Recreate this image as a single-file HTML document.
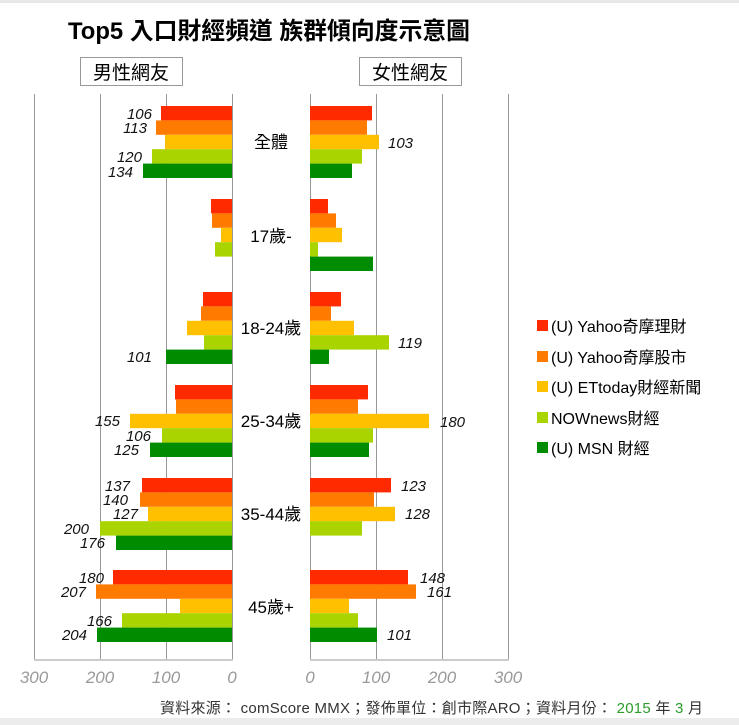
<!DOCTYPE html>
<html><head><meta charset="utf-8"><style>
body{margin:0;background:#fff}
svg{display:block;font-family:"Liberation Sans","Noto Sans CJK TC",sans-serif}
.l{font-style:italic;font-size:15px;fill:#111}
.c{font-size:17px;fill:#000;text-anchor:middle}
.ax{font-style:italic;font-size:17px;fill:#999;text-anchor:middle}
.lg{font-size:16px;fill:#000}
</style></head><body>
<svg width="739" height="725" viewBox="0 0 739 725">
<rect x="0" y="0" width="739" height="3" fill="#e8e8e8"/>
<rect x="0" y="718" width="739" height="7" fill="#ececec"/>
<text x="68" y="39" font-size="24" font-weight="bold" fill="#000" textLength="402" lengthAdjust="spacingAndGlyphs">Top5 入口財經頻道  族群傾向度示意圖</text>
<rect x="80.5" y="57.5" width="102" height="28" fill="#fff" stroke="#999"/>
<text x="131" y="79" font-size="19" text-anchor="middle">男性網友</text>
<rect x="359.5" y="57.5" width="102" height="28" fill="#fff" stroke="#999"/>
<text x="410" y="79" font-size="19" text-anchor="middle">女性網友</text>
<g stroke="#999" stroke-width="1">
<line x1="34.5" y1="94" x2="34.5" y2="660"/><line x1="100.5" y1="94" x2="100.5" y2="660"/><line x1="166.5" y1="94" x2="166.5" y2="660"/><line x1="232.5" y1="94" x2="232.5" y2="660"/>
<line x1="310.5" y1="94" x2="310.5" y2="660"/><line x1="376.5" y1="94" x2="376.5" y2="660"/><line x1="442.5" y1="94" x2="442.5" y2="660"/><line x1="508.5" y1="94" x2="508.5" y2="660"/>
</g>
<line x1="34" y1="660" x2="233" y2="660" stroke="#ccc" stroke-width="2"/>
<line x1="310" y1="660" x2="509" y2="660" stroke="#ccc" stroke-width="2"/>
<g>
<rect x="161" y="106" width="71" height="14.4" fill="#ff2a00"/><rect x="156" y="120.4" width="76" height="14.4" fill="#ff7b00"/><rect x="165" y="134.8" width="67" height="14.4" fill="#ffc000"/><rect x="152" y="149.2" width="80" height="14.4" fill="#aad400"/><rect x="143" y="163.6" width="89" height="14.4" fill="#008c00"/>
<rect x="310" y="106" width="62" height="14.4" fill="#ff2a00"/><rect x="310" y="120.4" width="57" height="14.4" fill="#ff7b00"/><rect x="310" y="134.8" width="69" height="14.4" fill="#ffc000"/><rect x="310" y="149.2" width="52" height="14.4" fill="#aad400"/><rect x="310" y="163.6" width="42" height="14.4" fill="#008c00"/>
<rect x="211" y="199" width="21" height="14.4" fill="#ff2a00"/><rect x="212" y="213.4" width="20" height="14.4" fill="#ff7b00"/><rect x="221" y="227.8" width="11" height="14.4" fill="#ffc000"/><rect x="215" y="242.2" width="17" height="14.4" fill="#aad400"/>
<rect x="310" y="199" width="18" height="14.4" fill="#ff2a00"/><rect x="310" y="213.4" width="26" height="14.4" fill="#ff7b00"/><rect x="310" y="227.8" width="32" height="14.4" fill="#ffc000"/><rect x="310" y="242.2" width="8" height="14.4" fill="#aad400"/><rect x="310" y="256.6" width="63" height="14.4" fill="#008c00"/>
<rect x="203" y="292" width="29" height="14.4" fill="#ff2a00"/><rect x="201" y="306.4" width="31" height="14.4" fill="#ff7b00"/><rect x="187" y="320.8" width="45" height="14.4" fill="#ffc000"/><rect x="204" y="335.2" width="28" height="14.4" fill="#aad400"/><rect x="166" y="349.6" width="66" height="14.4" fill="#008c00"/>
<rect x="310" y="292" width="31" height="14.4" fill="#ff2a00"/><rect x="310" y="306.4" width="21" height="14.4" fill="#ff7b00"/><rect x="310" y="320.8" width="44" height="14.4" fill="#ffc000"/><rect x="310" y="335.2" width="79" height="14.4" fill="#aad400"/><rect x="310" y="349.6" width="19" height="14.4" fill="#008c00"/>
<rect x="175" y="385" width="57" height="14.4" fill="#ff2a00"/><rect x="176" y="399.4" width="56" height="14.4" fill="#ff7b00"/><rect x="130" y="413.8" width="102" height="14.4" fill="#ffc000"/><rect x="162" y="428.2" width="70" height="14.4" fill="#aad400"/><rect x="150" y="442.6" width="82" height="14.4" fill="#008c00"/>
<rect x="310" y="385" width="58" height="14.4" fill="#ff2a00"/><rect x="310" y="399.4" width="48" height="14.4" fill="#ff7b00"/><rect x="310" y="413.8" width="119" height="14.4" fill="#ffc000"/><rect x="310" y="428.2" width="63" height="14.4" fill="#aad400"/><rect x="310" y="442.6" width="59" height="14.4" fill="#008c00"/>
<rect x="142" y="478" width="90" height="14.4" fill="#ff2a00"/><rect x="140" y="492.4" width="92" height="14.4" fill="#ff7b00"/><rect x="148" y="506.8" width="84" height="14.4" fill="#ffc000"/><rect x="100" y="521.2" width="132" height="14.4" fill="#aad400"/><rect x="116" y="535.6" width="116" height="14.4" fill="#008c00"/>
<rect x="310" y="478" width="81" height="14.4" fill="#ff2a00"/><rect x="310" y="492.4" width="64" height="14.4" fill="#ff7b00"/><rect x="310" y="506.8" width="85" height="14.4" fill="#ffc000"/><rect x="310" y="521.2" width="52" height="14.4" fill="#aad400"/>
<rect x="113" y="570" width="119" height="14.4" fill="#ff2a00"/><rect x="96" y="584.4" width="136" height="14.4" fill="#ff7b00"/><rect x="180" y="598.8" width="52" height="14.4" fill="#ffc000"/><rect x="122" y="613.2" width="110" height="14.4" fill="#aad400"/><rect x="97" y="627.6" width="135" height="14.4" fill="#008c00"/>
<rect x="310" y="570" width="98" height="14.4" fill="#ff2a00"/><rect x="310" y="584.4" width="106" height="14.4" fill="#ff7b00"/><rect x="310" y="598.8" width="39" height="14.4" fill="#ffc000"/><rect x="310" y="613.2" width="48" height="14.4" fill="#aad400"/><rect x="310" y="627.6" width="67" height="14.4" fill="#008c00"/>
</g>
<g class="l" text-anchor="end">
<text x="152" y="119">106</text><text x="147" y="133">113</text><text x="142" y="162">120</text><text x="133" y="177">134</text>
<text x="152" y="362">101</text>
<text x="120" y="426">155</text><text x="151" y="441">106</text><text x="139" y="455">125</text>
<text x="130" y="491">137</text><text x="128" y="505">140</text><text x="138" y="519">127</text><text x="89" y="534">200</text><text x="105" y="548">176</text>
<text x="104" y="583">180</text><text x="86" y="597">207</text><text x="112" y="626">166</text><text x="87" y="640">204</text>
</g>
<g class="l">
<text x="388" y="148">103</text><text x="398" y="348">119</text><text x="440" y="427">180</text>
<text x="401" y="491">123</text><text x="405" y="519">128</text>
<text x="420" y="583">148</text><text x="427" y="597">161</text><text x="387" y="640">101</text>
</g>
<g class="c">
<text x="271" y="148">全體</text><text x="271" y="242">17歲-</text><text x="271" y="334">18-24歲</text><text x="271" y="427">25-34歲</text><text x="271" y="520">35-44歲</text><text x="271" y="613">45歲+</text>
</g>
<g class="ax">
<text x="34" y="683">300</text><text x="100" y="683">200</text><text x="166" y="683">100</text><text x="232" y="683">0</text>
<text x="310" y="683">0</text><text x="376" y="683">100</text><text x="442" y="683">200</text><text x="508" y="683">300</text>
</g>
<g class="lg">
<rect x="537" y="320" width="11" height="11" fill="#ff2a00"/><text x="551" y="332">(U) Yahoo奇摩理財</text>
<rect x="537" y="351" width="11" height="11" fill="#ff7b00"/><text x="551" y="363">(U) Yahoo奇摩股市</text>
<rect x="537" y="381" width="11" height="11" fill="#ffc000"/><text x="551" y="393">(U) ETtoday財經新聞</text>
<rect x="537" y="412" width="11" height="11" fill="#aad400"/><text x="551" y="424">NOWnews財經</text>
<rect x="537" y="442" width="11" height="11" fill="#008c00"/><text x="551" y="454">(U) MSN 財經</text>
</g>
<text x="160" y="713" font-size="15" fill="#333" textLength="543" lengthAdjust="spacing">資料來源： comScore MMX；發佈單位：創市際ARO；資料月份：<tspan fill="#2a9d2a"> 2015 </tspan> 年 <tspan fill="#2a9d2a">3</tspan> 月</text>
</svg>
</body></html>
